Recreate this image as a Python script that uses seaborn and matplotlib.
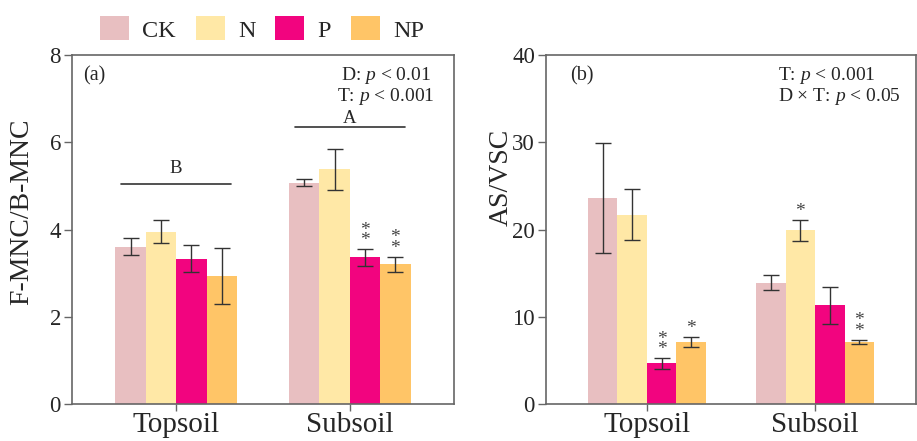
import numpy as np
import pandas as pd
import matplotlib
matplotlib.use("Agg")
import matplotlib.pyplot as plt
import seaborn as sns
from matplotlib.patches import Patch

# ---------------- data ----------------
depths = ["Topsoil", "Subsoil"]
treatments = ["CK", "N", "P", "NP"]
colors = ["#E8BFC1", "#FFE8A6", "#F2047F", "#FFC567"]

# panel (a) F-MNC/B-MNC, values per treatment: [Topsoil, Subsoil]
fb_CK = [3.61, 5.07]
fb_N = [3.95, 5.38]
fb_P = [3.33, 3.36]
fb_NP = [2.94, 3.20]
fb_CK_err = [0.20, 0.08]
fb_N_err = [0.26, 0.47]
fb_P_err = [0.31, 0.19]
fb_NP_err = [0.64, 0.17]
fb_stars = {"CK": ["", ""], "N": ["", ""], "P": ["", "**"], "NP": ["", "**"]}
fb_groups = ["B", "A"]
fb_group_line_y = [5.05, 6.34]
fb_group_text_y = [5.39, 6.55]

# panel (b) AS/VSC
as_CK = [23.6, 13.9]
as_N = [21.7, 19.9]
as_P = [4.66, 11.3]
as_NP = [7.07, 7.10]
as_CK_err = [6.3, 0.85]
as_N_err = [2.9, 1.2]
as_P_err = [0.6, 2.1]
as_NP_err = [0.57, 0.27]
as_stars = {"CK": ["", ""], "N": ["", "*"], "P": ["**", ""], "NP": ["*", "**"]}

# ---------------- style ----------------
sns.set_style("ticks")
plt.rcParams["font.family"] = ["Liberation Serif", "DejaVu Serif"]
plt.rcParams["mathtext.fontset"] = "custom"
plt.rcParams["mathtext.rm"] = "Liberation Serif"
plt.rcParams["mathtext.it"] = "Liberation Serif:italic"

SPINE = "#666666"
ERR = "#333333"


def long_df(series):
    rows = []
    for t, vals in zip(treatments, series):
        for d, v in zip(depths, vals):
            rows.append({"Depth": d, "Treatment": t, "value": v})
    return pd.DataFrame(rows)


def draw_panel(ax, series, errs, stars, ylim, yticks, ylabel, label_xy):
    df = long_df(series)
    sns.barplot(data=df, x="Depth", y="value", hue="Treatment",
                order=depths, hue_order=treatments, palette=colors,
                width=0.7, errorbar=None, saturation=1, linewidth=0,
                legend=False, ax=ax)
    for cont, t, err in zip(ax.containers, treatments, errs):
        for bar, e, s in zip(cont, err, stars[t]):
            x = bar.get_x() + bar.get_width() / 2
            h = bar.get_height()
            ax.errorbar(x, h, yerr=e, fmt="none", ecolor=ERR, elinewidth=1.0,
                        capsize=5.5, capthick=1.0, zorder=5)
            if s:
                txt = "\n".join(list(s))
                ax.annotate(txt, (x, h + e), xytext=(0, 0), textcoords="offset points",
                            ha="center", va="bottom", fontsize=14, color="#444444",
                            linespacing=0.5)
    ax.set_ylim(*ylim)
    ax.set_yticks(yticks)
    ax.set_xlim(-0.6, 1.6)
    ax.set_xlabel("")
    ax.set_ylabel(ylabel, fontsize=20)
    ax.yaxis.set_label_coords(*label_xy)
    ax.tick_params(axis="y", labelsize=16.5, length=6, width=1.0, color=SPINE, direction="out", pad=2)
    ax.tick_params(axis="x", labelsize=21, length=5, width=1.0, color=SPINE, direction="out", pad=1)
    for sp in ax.spines.values():
        sp.set_visible(True)
        sp.set_color(SPINE)
        sp.set_linewidth(1.2)


fig = plt.figure(figsize=(9.17, 4.41), dpi=100)
ax1 = fig.add_axes([72 / 917, 37 / 441, 382 / 917, 349 / 441])
ax2 = fig.add_axes([546 / 917, 37 / 441, 370 / 917, 349 / 441])

draw_panel(ax1, [fb_CK, fb_N, fb_P, fb_NP],
           [fb_CK_err, fb_N_err, fb_P_err, fb_NP_err],
           fb_stars, (0, 8), [0, 2, 4, 6, 8], "F-MNC/B-MNC", (-0.10, 0.55))
draw_panel(ax2, [as_CK, as_N, as_P, as_NP],
           [as_CK_err, as_N_err, as_P_err, as_NP_err],
           as_stars, (0, 40), [0, 10, 20, 30, 40], "AS/VSC", (-0.086, 0.65))

# group letters with lines (panel a)
for i, (g, ly, ty) in enumerate(zip(fb_groups, fb_group_line_y, fb_group_text_y)):
    ax1.plot([i - 0.315, i + 0.315], [ly, ly], color=ERR, lw=1.2)
    ax1.text(i, ty, g, ha="center", va="center", fontsize=13.5)

# panel labels and stats
ax1.text(0.029, 0.94, "(a)", transform=ax1.transAxes, fontsize=14.5, va="center", ha="left")
ax1.text(0.705, 0.94, "D: $p$ < 0.01", transform=ax1.transAxes,
         fontsize=14, va="center", ha="left")
ax1.text(0.695, 0.88, "T: $p$ < 0.001", transform=ax1.transAxes,
         fontsize=14, va="center", ha="left")
ax2.text(0.065, 0.94, "(b)", transform=ax2.transAxes, fontsize=14.5, va="center", ha="left")
ax2.text(0.627, 0.94, "T: $p$ < 0.001", transform=ax2.transAxes,
         fontsize=14, va="center", ha="left")
ax2.text(0.627, 0.88, "D × T: $p$ < 0.05", transform=ax2.transAxes,
         fontsize=14, va="center", ha="left")

handles = [Patch(facecolor=c, edgecolor="none", label=t) for c, t in zip(colors, treatments)]
fig.legend(handles=handles, loc="center", bbox_to_anchor=(262 / 917, 1 - 29 / 441),
           ncol=4, frameon=False, fontsize=17.5, handlelength=1.2, handleheight=1.15,
           handletextpad=0.55, columnspacing=0.8)

fig.savefig("out.png", dpi=100)
